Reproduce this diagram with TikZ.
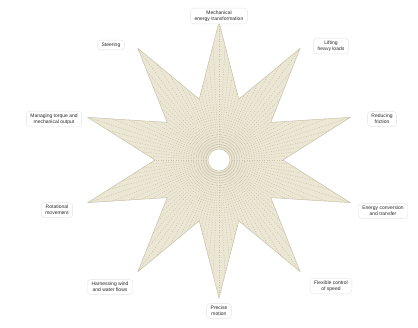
\documentclass[tikz,border=0pt]{standalone}
\usepackage{fontspec}
\setmainfont{Liberation Sans}
\usetikzlibrary{calc}
\definecolor{starfill}{HTML}{ECE7D5}
\definecolor{starline}{HTML}{C9C2A8}
\definecolor{boxline}{HTML}{E4E4E4}
\definecolor{txt}{HTML}{2A2A2A}
\tikzset{
  lbl/.style={fill=white, draw=boxline, line width=0.4pt, rounded corners=3pt,
    inner xsep=4pt, inner ysep=2.5pt, align=center, text=txt,
    font=\fontsize{5}{6}\selectfont},
}
\def\ri{64}
\def\ro{138}
\begin{document}
\begin{tikzpicture}[x=1pt,y=-1pt]
\useasboundingbox (0,0) rectangle (418,328);
\fill[white] (0,0) rectangle (418,328);
\coordinate (c) at (219,160);
\begin{scope}
\path[fill=starfill, draw=starline, line width=0.5pt]
  ($(c)+(-90:\ro)$)
  -- ($(c)+(-72:\ri)$) -- ($(c)+(-54:\ro)$)
  -- ($(c)+(-36:\ri)$) -- ($(c)+(-18:\ro)$)
  -- ($(c)+(0:\ri)$) -- ($(c)+(18:\ro)$)
  -- ($(c)+(36:\ri)$) -- ($(c)+(54:\ro)$)
  -- ($(c)+(72:\ri)$) -- ($(c)+(90:\ro)$)
  -- ($(c)+(108:\ri)$) -- ($(c)+(126:\ro)$)
  -- ($(c)+(144:\ri)$) -- ($(c)+(162:\ro)$)
  -- ($(c)+(180:\ri)$) -- ($(c)+(198:\ro)$)
  -- ($(c)+(216:\ri)$) -- ($(c)+(234:\ro)$)
  -- ($(c)+(252:\ri)$) -- cycle;
\clip
  ($(c)+(-90:\ro)$)
  -- ($(c)+(-72:\ri)$) -- ($(c)+(-54:\ro)$)
  -- ($(c)+(-36:\ri)$) -- ($(c)+(-18:\ro)$)
  -- ($(c)+(0:\ri)$) -- ($(c)+(18:\ro)$)
  -- ($(c)+(36:\ri)$) -- ($(c)+(54:\ro)$)
  -- ($(c)+(72:\ri)$) -- ($(c)+(90:\ro)$)
  -- ($(c)+(108:\ri)$) -- ($(c)+(126:\ro)$)
  -- ($(c)+(144:\ri)$) -- ($(c)+(162:\ro)$)
  -- ($(c)+(180:\ri)$) -- ($(c)+(198:\ro)$)
  -- ($(c)+(216:\ri)$) -- ($(c)+(234:\ro)$)
  -- ($(c)+(252:\ri)$) -- cycle;
\foreach \a in {0,3,...,357}
  \draw[starline, line width=0.5pt, dash pattern=on 1pt off 1.5pt] (c) -- ++(\a:140);
\end{scope}
\fill[white] (c) circle (11);
\draw[starline, line width=0.4pt] (c) circle (11);
% labels
\node[lbl] (top) at (219,16) {Mechanical\\energy transformation};
\node[lbl] (ur) at (331,46) {Lifting\\heavy loads};
\node[lbl] (r1) at (382,119) {Reducing\\friction};
\node[lbl] (r2) at (383,211) {Energy conversion\\and transfer};
\node[lbl] (lr) at (331,286) {Flexible control\\of speed};
\node[lbl] (bot) at (219,311) {Precise\\motion};
\node[lbl] (ll) at (110,287) {Harnessing wind\\and water flows};
\node[lbl] (l2) at (57,210) {Rotational\\movement};
\node[lbl] (l1) at (54,119) {Managing torque and\\mechanical output};
\node[lbl] (ul) at (111,45) {Steering};
\end{tikzpicture}
\end{document}
